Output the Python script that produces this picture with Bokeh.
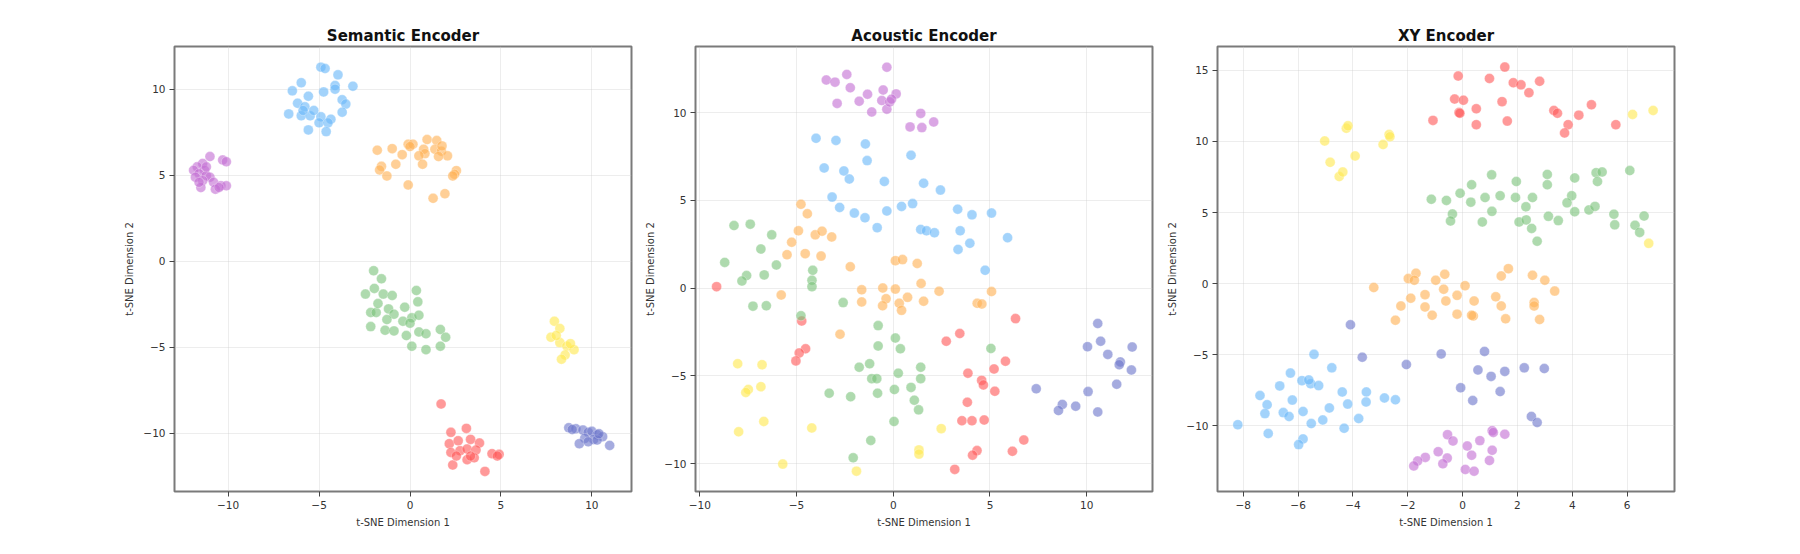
from bokeh.plotting import figure
from bokeh.layouts import row
from bokeh.models import FixedTicker, CustomJSTickFormatter, Range1d
from bokeh.embed import file_html
from bokeh.resources import INLINE

# ---------------- data ----------------
CLASS_NAMES = ["red", "blue", "green", "orange", "purple", "yellow", "indigo"]
CLASS_COLORS = ["#FF5A5A", "#6AB8F8", "#7CC47C", "#FFB255", "#C46FD4", "#FFE850", "#6E77CC"]

PANEL_TITLES = ["Semantic Encoder", "Acoustic Encoder", "XY Encoder"]
X_LABEL = "t-SNE Dimension 1"
Y_LABEL = "t-SNE Dimension 2"

# Semantic encoder points (x, y) per class
SEM_RED = [[1.71, -8.29], [2.25, -9.94], [3.10, -9.71], [2.16, -10.60], [2.65, -10.43], [3.33, -10.35],
           [3.82, -10.56], [2.25, -11.11], [2.75, -11.01], [3.14, -10.91], [3.63, -10.97], [4.51, -11.18],
           [4.90, -11.22], [4.80, -11.32], [2.35, -11.84], [3.14, -11.53], [3.53, -11.42], [4.12, -12.21],
           [2.55, -11.32], [3.33, -11.32]]
SEM_BLUE = [[-4.90, 11.30], [-4.67, 11.22], [-3.96, 10.85], [-5.98, 10.39], [-4.12, 10.23], [-3.14, 10.19],
            [-6.47, 9.92], [-4.75, 9.86], [-4.12, 10.02], [-5.59, 9.61], [-3.73, 9.40], [-3.53, 9.15],
            [-6.18, 9.20], [-5.78, 8.99], [-6.67, 8.58], [-3.73, 8.68], [-5.98, 8.47], [-5.49, 8.47],
            [-4.90, 8.41], [-4.35, 8.27], [-5.00, 8.06], [-4.51, 8.06], [-5.59, 7.65], [-4.61, 7.55],
            [-5.88, 8.78], [-5.29, 8.78]]
SEM_GREEN = [[-2.00, -0.54], [-1.57, -1.01], [-1.96, -1.57], [-2.45, -1.90], [-1.47, -1.90], [-0.98, -1.98],
             [0.35, -1.69], [0.43, -2.35], [-2.16, -2.97], [-1.86, -2.97], [-1.18, -2.76], [-0.29, -2.66],
             [-0.88, -3.07], [0.10, -3.28], [0.49, -3.13], [-2.16, -3.79], [-1.37, -4.00], [-0.88, -4.04],
             [-0.39, -3.48], [0.00, -3.59], [-0.20, -4.31], [0.49, -4.10], [0.88, -4.21], [1.67, -3.96],
             [1.96, -4.41], [0.10, -4.93], [0.88, -5.13], [1.67, -4.93], [-1.76, -2.45], [-1.27, -3.38]]
SEM_ORANGE = [[-1.80, 6.47], [-0.98, 6.56], [-0.43, 6.21], [-0.10, 6.82], [0.16, 6.82], [0.94, 7.09],
              [1.47, 7.03], [0.75, 6.52], [1.37, 6.52], [1.73, 6.41], [2.06, 6.14], [1.57, 6.10],
              [0.82, 6.27], [0.49, 6.14], [0.69, 5.65], [-0.78, 5.65], [-1.57, 5.53], [-1.67, 5.32],
              [-1.27, 4.97], [2.55, 5.28], [2.45, 5.07], [2.35, 4.97], [-0.10, 4.45], [1.27, 3.67],
              [1.92, 3.94], [0.00, 6.68], [1.76, 6.72]]
SEM_PURPLE = [[-11.0, 6.1], [-10.3, 5.9], [-10.1, 5.8], [-11.4, 5.7], [-11.7, 5.5], [-11.9, 5.3],
              [-11.3, 5.3], [-11.6, 5.1], [-11.2, 5.0], [-11.0, 4.9], [-11.8, 4.9], [-11.4, 4.7],
              [-10.8, 4.6], [-10.4, 4.4], [-10.1, 4.4], [-11.5, 4.3], [-10.7, 4.2], [-10.5, 4.3],
              [-11.2, 5.5], [-11.6, 4.6]]
SEM_YELLOW = [[7.94, -3.48], [8.24, -3.90], [7.75, -4.41], [8.24, -4.72], [8.63, -4.93], [9.02, -5.13],
              [8.53, -5.44], [8.33, -5.69], [8.04, -4.31], [8.82, -4.78]]
SEM_INDIGO = [[8.73, -9.67], [9.12, -9.73], [9.51, -9.81], [9.80, -9.94], [10.00, -9.88], [10.29, -10.08],
              [10.59, -10.19], [10.10, -10.35], [9.61, -10.29], [9.31, -10.60], [9.80, -10.49],
              [10.29, -10.39], [10.98, -10.70], [8.92, -9.77], [10.39, -10.02]]

# Acoustic encoder points
ACO_RED = [[-9.13, 0.08], [-4.73, -1.88], [-4.53, -3.46], [-4.86, -3.70], [-5.03, -4.15], [6.32, -1.74],
           [3.44, -2.59], [2.74, -3.03], [5.80, -4.17], [5.21, -4.61], [3.86, -4.85], [4.57, -5.26],
           [4.66, -5.52], [5.25, -5.88], [3.83, -6.51], [3.55, -7.56], [4.07, -7.56], [4.70, -7.52],
           [6.75, -8.66], [6.16, -9.30], [4.33, -9.26], [4.10, -9.52], [3.18, -10.33]]
ACO_BLUE = [[-3.99, 8.53], [-2.96, 8.41], [-1.44, 8.21], [-1.35, 7.26], [0.92, 7.56], [-3.57, 6.84],
            [-2.55, 6.67], [-2.27, 6.21], [-0.46, 6.07], [1.57, 5.97], [2.44, 5.58], [-3.16, 5.18],
            [-2.77, 4.59], [-2.01, 4.27], [-1.46, 4.00], [-0.33, 4.39], [0.43, 4.65], [1.00, 4.81],
            [-0.83, 3.44], [3.33, 4.49], [4.07, 4.17], [5.08, 4.27], [1.42, 3.34], [1.72, 3.26],
            [2.13, 3.15], [3.46, 3.26], [3.96, 2.55], [3.35, 2.20], [5.91, 2.87], [4.75, 1.01]]
ACO_GREEN = [[-8.23, 3.56], [-7.39, 3.64], [-6.28, 3.03], [-6.84, 2.22], [-8.71, 1.46], [-6.04, 1.31],
             [-7.58, 0.71], [-7.82, 0.40], [-6.67, 0.75], [-4.16, 1.01], [-4.20, 0.44], [-4.20, 0.08],
             [-7.25, -1.03], [-6.56, -1.01], [-2.59, -0.83], [-4.77, -1.58], [-0.78, -2.14], [0.11, -2.85],
             [-0.78, -3.30], [0.37, -3.46], [5.05, -3.44], [-1.22, -4.31], [-1.76, -4.51], [1.42, -4.51],
             [0.26, -4.85], [1.42, -5.16], [-1.11, -5.16], [-0.85, -5.16], [-3.31, -5.99], [-2.20, -6.19],
             [-0.81, -5.99], [0.06, -5.78], [0.92, -5.66], [1.09, -6.39], [1.31, -6.94], [0.04, -7.60],
             [-1.16, -8.68], [-2.07, -9.67]]
ACO_ORANGE = [[-4.77, 4.77], [-4.44, 4.23], [-4.90, 3.26], [-5.25, 2.61], [-5.49, 1.90], [-4.55, 1.96],
              [-3.73, 1.82], [-4.03, 3.03], [-3.68, 3.24], [-3.18, 2.91], [-2.22, 1.21], [0.11, 1.56],
              [0.48, 1.62], [1.24, 1.40], [1.44, 0.26], [-1.63, -0.10], [-1.63, -0.79], [-0.54, 0.00],
              [0.11, -0.06], [2.37, -0.18], [5.08, -0.20], [-5.79, -0.40], [-0.37, -0.61], [-0.55, -1.01],
              [0.31, -0.87], [0.74, -0.53], [1.57, -0.75], [0.43, -1.27], [4.34, -0.87], [4.58, -0.91],
              [-2.75, -2.63]]
ACO_PURPLE = [[-0.33, 12.58], [-3.46, 11.85], [-3.01, 11.73], [-2.40, 12.17], [-2.22, 11.41], [-2.90, 10.52],
              [-1.33, 11.04], [-1.76, 10.64], [-1.11, 10.03], [-0.52, 11.28], [-0.59, 10.68], [-0.33, 10.19],
              [-0.18, 10.60], [0.15, 11.06], [0.87, 9.18], [1.42, 9.95], [1.48, 9.14], [2.09, 9.46],
              [-0.09, 10.76]]
ACO_YELLOW = [[-8.04, -4.31], [-6.78, -4.37], [-6.84, -5.62], [-7.49, -5.78], [-7.62, -5.95], [-6.69, -7.60],
              [-7.99, -8.19], [-4.21, -7.97], [2.48, -8.01], [1.33, -9.22], [1.33, -9.46], [-5.71, -10.03],
              [-1.90, -10.43]]
ACO_INDIGO = [[10.57, -2.02], [10.04, -3.34], [10.72, -3.03], [11.09, -3.78], [12.35, -3.36], [11.74, -4.21],
              [11.68, -4.37], [12.31, -4.67], [11.55, -5.48], [7.39, -5.74], [10.07, -5.90], [10.57, -7.06],
              [8.74, -6.63], [8.54, -6.98], [9.43, -6.73]]

# XY encoder points
XY_RED = [[-0.16, 14.60], [0.98, 14.43], [1.54, 15.23], [1.85, 14.13], [2.13, 13.98], [2.42, 13.43],
          [2.81, 14.23], [-0.29, 12.98], [0.03, 12.90], [-0.13, 12.03], [-0.10, 11.98], [0.50, 12.30],
          [1.44, 12.80], [0.50, 11.18], [1.63, 11.43], [-1.08, 11.48], [3.33, 12.18], [3.46, 11.98],
          [3.85, 11.18], [3.72, 10.60], [4.24, 11.85], [4.70, 12.58], [5.59, 11.18]]
XY_BLUE = [[-5.42, -4.98], [-4.77, -5.93], [-6.28, -6.30], [-6.67, -7.20], [-5.86, -6.83], [-5.54, -7.05],
           [-5.25, -7.18], [-5.61, -6.78], [-7.39, -7.88], [-6.21, -8.20], [-7.13, -8.53], [-7.21, -9.15],
           [-6.54, -9.08], [-6.33, -9.35], [-5.82, -9.00], [-4.86, -8.75], [-4.39, -7.63], [-4.19, -8.48],
           [-3.51, -7.63], [-3.52, -8.33], [-3.79, -9.50], [-2.85, -8.05], [-2.45, -8.18], [-5.10, -9.60],
           [-5.52, -9.85], [-4.32, -10.18], [-8.20, -9.93], [-7.09, -10.55], [-5.82, -10.93], [-5.98, -11.33]]
XY_GREEN = [[-1.14, 5.93], [-0.59, 5.85], [-0.09, 6.35], [0.33, 6.95], [0.30, 5.73], [0.82, 6.05],
            [1.06, 7.65], [1.37, 6.18], [1.93, 6.05], [1.96, 7.18], [2.55, 6.05], [3.09, 7.68],
            [3.09, 6.95], [4.09, 7.43], [4.87, 7.80], [5.09, 7.85], [4.92, 7.18], [6.10, 7.95],
            [3.98, 6.18], [3.81, 5.68], [4.09, 5.05], [4.61, 5.18], [4.83, 5.43], [-0.37, 4.90],
            [-0.44, 4.40], [0.72, 4.33], [1.07, 5.08], [2.06, 4.33], [2.31, 5.40], [2.32, 4.48],
            [2.52, 3.88], [2.72, 2.98], [3.13, 4.73], [3.49, 4.43], [5.52, 4.88], [5.55, 4.13],
            [6.29, 4.10], [6.46, 3.60], [6.62, 4.75]]
XY_ORANGE = [[1.67, 1.05], [1.41, 0.53], [2.55, 0.58], [3.00, 0.23], [3.36, -0.53], [-0.65, 0.65],
             [-0.98, 0.23], [-1.70, 0.73], [-1.98, 0.35], [-1.76, 0.23], [-3.24, -0.28], [-1.89, -1.03],
             [-2.25, -1.58], [-1.37, -0.78], [-1.37, -1.65], [-1.11, -2.23], [-2.45, -2.58], [-0.69, -0.40],
             [-0.61, -1.23], [-0.20, -0.83], [0.09, -0.15], [-0.20, -2.15], [0.42, -1.23], [0.39, -2.28],
             [0.33, -2.23], [1.21, -0.93], [1.41, -1.58], [1.57, -2.48], [2.61, -1.33], [2.61, -1.58],
             [2.81, -2.53]]
XY_PURPLE = [[-0.55, -10.63], [-0.35, -11.08], [0.63, -11.05], [0.17, -11.43], [0.33, -12.08], [-0.89, -11.83],
             [-0.56, -12.28], [-0.72, -12.68], [-1.36, -12.23], [-1.64, -12.48], [-1.78, -12.83], [0.10, -13.08],
             [0.42, -13.20], [1.08, -10.35], [1.12, -10.48], [1.54, -10.60], [1.08, -11.73], [0.98, -12.45]]
XY_YELLOW = [[-5.03, 10.03], [-4.24, 10.93], [-4.18, 11.10], [-4.83, 8.53], [-4.50, 7.53], [-4.37, 7.85],
             [-3.92, 8.98], [-2.90, 9.78], [-2.68, 10.48], [-2.65, 10.33], [6.20, 11.90], [6.95, 12.18],
             [6.79, 2.83]]
XY_INDIGO = [[-4.09, -2.90], [-3.66, -5.18], [-2.05, -5.70], [-0.78, -4.95], [0.80, -4.78], [0.56, -6.08],
             [1.04, -6.53], [1.54, -6.18], [2.25, -5.93], [2.98, -5.98], [-0.07, -7.33], [0.37, -8.23],
             [1.37, -7.60], [2.51, -9.35], [2.72, -9.78]]

SEM_CLASSES = [SEM_RED, SEM_BLUE, SEM_GREEN, SEM_ORANGE, SEM_PURPLE, SEM_YELLOW, SEM_INDIGO]
ACO_CLASSES = [ACO_RED, ACO_BLUE, ACO_GREEN, ACO_ORANGE, ACO_PURPLE, ACO_YELLOW, ACO_INDIGO]
XY_CLASSES = [XY_RED, XY_BLUE, XY_GREEN, XY_ORANGE, XY_PURPLE, XY_YELLOW, XY_INDIGO]

SEM_XTICKS = [-10, -5, 0, 5, 10]
SEM_YTICKS = [-10, -5, 0, 5, 10]
ACO_XTICKS = [-10, -5, 0, 5, 10]
ACO_YTICKS = [-10, -5, 0, 5, 10]
XY_XTICKS = [-8, -6, -4, -2, 0, 2, 4, 6]
XY_YTICKS = [-10, -5, 0, 5, 10, 15]

SEM_XRANGE = (-12.95, 12.18)
SEM_YRANGE = (-13.38, 12.50)
ACO_XRANGE = (-10.22, 13.40)
ACO_YRANGE = (-11.59, 13.76)
XY_XRANGE = (-8.94, 7.73)
XY_YRANGE = (-14.63, 16.68)

FONT = "DejaVu Sans"
FRAME_W = 457
FRAME_H = 445

minus_fmt = """
var s = Number.isInteger(tick) ? tick.toString() : tick.toFixed(1);
return tick < 0 ? "\\u2212" + s.substring(1) : s;
"""


def make_panel(title, classes, xr, yr, xticks, yticks, left_border):
    p = figure(
        width=left_border + FRAME_W + 4,
        height=46 + FRAME_H + 52,
        x_range=Range1d(*xr), y_range=Range1d(*yr),
        output_backend="svg", toolbar_location=None,
        min_border_left=left_border, min_border_right=4,
        min_border_top=46, min_border_bottom=52,
        background_fill_color="white", border_fill_color="white",
        title=title,
    )
    p.title.align = "center"
    p.title.text_font = FONT
    p.title.text_font_size = "15px"
    p.title.text_font_style = "bold"
    p.title.text_color = "#111111"
    p.title.standoff = 4

    p.outline_line_color = "#7a7a7a"
    p.outline_line_width = 2
    p.outline_line_alpha = 1.0

    for ax, ticks in ((p.xaxis, xticks), (p.yaxis, yticks)):
        ax.ticker = FixedTicker(ticks=ticks)
        ax.formatter = CustomJSTickFormatter(code=minus_fmt)
        ax.axis_line_color = None
        ax.major_tick_line_color = "#444444"
        ax.major_tick_out = 5
        ax.major_tick_in = 0
        ax.minor_tick_line_color = None
        ax.major_label_text_font = FONT
        ax.major_label_text_font_size = "10.5px"
        ax.major_label_text_color = "#333333"
        ax.major_label_standoff = 4
        ax.axis_label_text_font = FONT
        ax.axis_label_text_font_size = "10px"
        ax.axis_label_text_font_style = "normal"
        ax.axis_label_text_color = "#333333"
        ax.axis_label_standoff = 5
    p.xaxis.axis_label = X_LABEL
    p.yaxis.axis_label = Y_LABEL

    p.grid.grid_line_color = "#cccccc"
    p.grid.grid_line_alpha = 0.35
    p.grid.grid_line_width = 1

    for pts, color in zip(classes, CLASS_COLORS):
        xs = [pt[0] for pt in pts]
        ys = [pt[1] for pt in pts]
        p.scatter(xs, ys, size=10, fill_color=color, fill_alpha=0.62,
                  line_color="white", line_width=0.5, line_alpha=0.6)
    return p


p1 = make_panel(PANEL_TITLES[0], SEM_CLASSES, SEM_XRANGE, SEM_YRANGE, SEM_XTICKS, SEM_YTICKS, 174)
p2 = make_panel(PANEL_TITLES[1], ACO_CLASSES, ACO_XRANGE, ACO_YRANGE, ACO_XTICKS, ACO_YTICKS, 60)
p3 = make_panel(PANEL_TITLES[2], XY_CLASSES, XY_XRANGE, XY_YRANGE, XY_XTICKS, XY_YTICKS, 61)

layout = row(p1, p2, p3)
layout.spacing = 0

open("out.html", "w").write(file_html(layout, INLINE))
